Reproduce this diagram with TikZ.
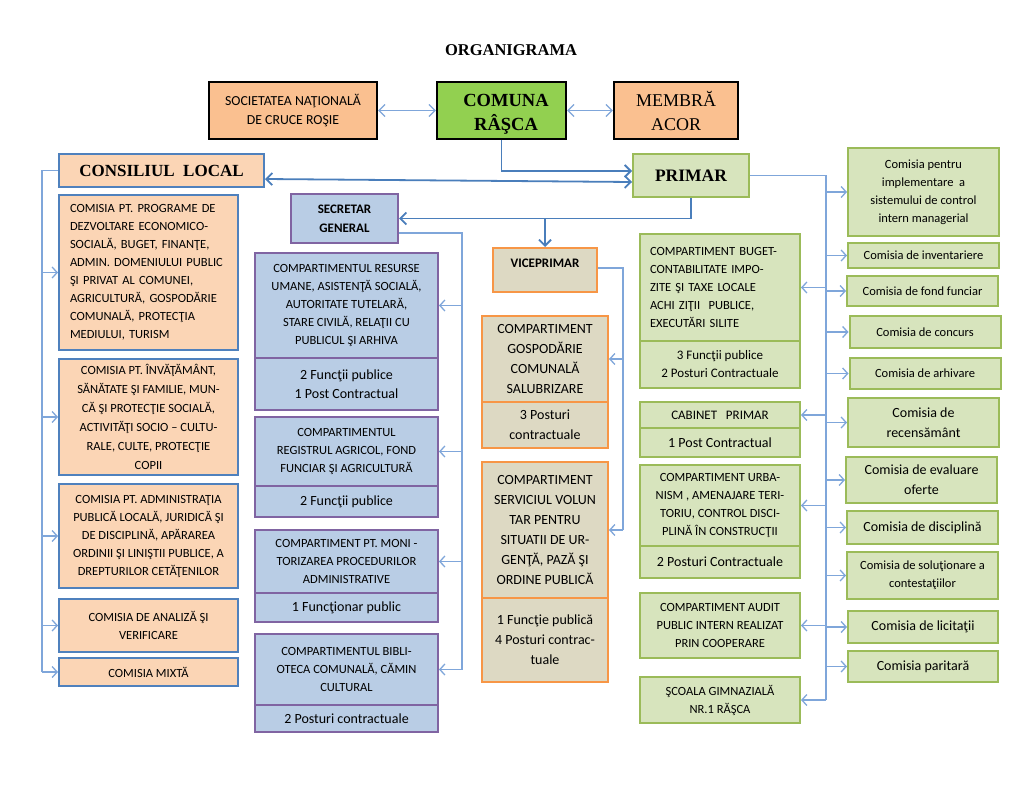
\documentclass[tikz,border=0pt]{standalone}
\usepackage{fontspec}
\setmainfont{Liberation Serif}
\newfontfamily\calib{Carlito}
\usetikzlibrary{arrows.meta,calc}
\frenchspacing
\definecolor{orTitle}{HTML}{FAC090}
\definecolor{grCom}{HTML}{92D050}
\definecolor{clFill}{HTML}{FBD5B5}
\definecolor{clLine}{HTML}{4F81BD}
\definecolor{grFill}{HTML}{D7E4BD}
\definecolor{grLine}{HTML}{9BBB59}
\definecolor{puFill}{HTML}{B9CDE5}
\definecolor{puLine}{HTML}{8064A2}
\definecolor{taFill}{HTML}{DDD9C3}
\definecolor{taLine}{HTML}{F79646}
\definecolor{conA}{HTML}{4A7EBB}
\definecolor{conB}{HTML}{7FA6DA}
\tikzset{
  base/.style={draw, line width=2pt, inner sep=2pt, align=center},
  sz/.style 2 args={minimum width=#1pt, minimum height=#2pt},
  blk/.style={base, draw=black, line width=2.2pt},
  clbox/.style={base, draw=clLine, fill=clFill},
  grbox/.style={base, draw=grLine, fill=grFill},
  pubox/.style={base, draw=puLine, fill=puFill},
  tabox/.style={base, draw=taLine, fill=taFill},
  small/.style={font=\calib\fontsize{12.5}{18}\selectfont},
  mid/.style={font=\calib\fontsize{14}{19.5}\selectfont},
  tan/.style={font=\calib\fontsize{14}{20}\selectfont},
  conn/.style={draw=conB, line width=1.3pt},
  arr/.style={conn, -{Straight Barb[length=5pt,width=11pt]}},
  mainc/.style={draw=conA, line width=1.8pt},
  marr/.style={mainc, -{Straight Barb[length=6pt,width=12pt]}},
  mdarr/.style={mainc, {Straight Barb[length=6pt,width=12pt]}-{Straight Barb[length=6pt,width=12pt]}},
  darr/.style={conn, {Straight Barb[length=6pt,width=12pt]}-{Straight Barb[length=6pt,width=12pt]}},
}
\begin{document}
\begin{tikzpicture}[x=1pt,y=-1pt]
\useasboundingbox[fill=white] (0,0) rectangle (1024,784);

% title row
\node[font=\bfseries\fontsize{16.5}{20}\selectfont] (title) at (511,50) {ORGANIGRAMA};
\node[blk, fill=orTitle, sz={168}{57}, font=\calib\fontsize{13.8}{19}\selectfont] (soc) at (293,110.5) {SOCIETATEA NAŢIONALĂ\\DE CRUCE ROŞIE};
\node[blk, fill=grCom, sz={129}{57}] (comuna) at (501.5,110.5) {};
\node[font=\bfseries\fontsize{18.5}{24}\selectfont, align=center] (comunaText) at (506,114) {COMUNA\\RÂŞCA};
\node[blk, fill=orTitle, sz={124}{57}, font=\fontsize{18}{24}\selectfont] (membra) at (676,110.5) {MEMBRĂ\\ACOR};

\node[clbox, sz={205}{33}, font=\bfseries\fontsize{17}{20}\selectfont] (cl) at (161.5,170.5) {CONSILIUL~~LOCAL};
\node[grbox, sz={116}{43}, font=\bfseries\fontsize{17.5}{20}\selectfont] (primar) at (691,175.5) {PRIMAR};
\node[pubox, sz={107}{49}, font=\calib\bfseries\fontsize{13}{19}\selectfont] (secretar) at (344.5,218.5) {SECRETAR\\GENERAL};
\node[tabox, sz={104}{44}, font=\calib\bfseries\fontsize{13}{16}\selectfont, text height=8pt, text depth=13pt] (vice) at (545,270) {VICEPRIMAR};

% consiliul commissions
\node[clbox, small, sz={179}{155}, text width=157pt, align=left] (prog) at (148.5,272.5) {COMISIA PT. PROGRAME DE\\\makebox[157pt][s]{DEZVOLTARE ECONOMICO-}\\\makebox[157pt][s]{SOCIALĂ, BUGET, FINANŢE,}\\\makebox[157pt][s]{ADMIN. DOMENIULUI PUBLIC}\\\makebox[157pt][s]{ŞI PRIVAT AL COMUNEI,}\\\makebox[157pt][s]{AGRICULTURĂ, GOSPODĂRIE}\\\makebox[157pt][s]{COMUNALĂ, PROTECŢIA}\\MEDIULUI, TURISM};
\node[clbox, small, sz={179}{116}, font=\calib\fontsize{12.5}{19}\selectfont] (invat) at (148.5,417) {COMISIA PT. ÎNVĂŢĂMÂNT,\\SĂNĂTATE ŞI FAMILIE, MUN-\\CĂ ŞI PROTECŢIE SOCIALĂ,\\ACTIVITĂŢI SOCIO – CULTU-\\RALE, CULTE, PROTECŢIE\\COPII};
\node[clbox, small, sz={179}{104}] (admin) at (148.5,536) {COMISIA PT. ADMINISTRAŢIA\\PUBLICĂ LOCALĂ, JURIDICĂ ŞI\\DE DISCIPLINĂ, APĂRAREA\\ORDINII ŞI LINIŞTII PUBLICE, A\\DREPTURILOR CETĂŢENILOR};
\node[clbox, small, sz={179}{53}] (analiza) at (148.5,625.5) {COMISIA DE ANALIZĂ ŞI\\VERIFICARE};
\node[clbox, small, sz={179}{28}] (mixta) at (148.5,672) {COMISIA MIXTĂ};

% secretar compartments
\node[pubox, small, sz={183}{105}] (resTop) at (346.5,305.5) {COMPARTIMENTUL RESURSE\\UMANE, ASISTENŢĂ SOCIALĂ,\\AUTORITATE TUTELARĂ,\\STARE CIVILĂ, RELAŢII CU\\PUBLICUL ŞI ARHIVA};
\node[pubox, mid, sz={183}{52}] (resBot) at (346.5,384) {2 Funcţii publice\\1 Post Contractual};
\node[pubox, small, sz={183}{69}] (regTop) at (346.5,451.5) {COMPARTIMENTUL\\REGISTRUL AGRICOL, FOND\\FUNCIAR ŞI AGRICULTURĂ};
\node[pubox, mid, sz={183}{31}] (regBot) at (346.5,501.5) {2 Funcţii publice};
\node[pubox, small, sz={183}{63}] (monTop) at (346.5,561.5) {COMPARTIMENT PT. MONI -\\TORIZAREA PROCEDURILOR\\ADMINISTRATIVE};
\node[pubox, mid, sz={183}{29}] (monBot) at (346.5,607.5) {1 Funcţionar public};
\node[pubox, small, sz={183}{71}] (bibTop) at (346.5,669.5) {COMPARTIMENTUL BIBLI-\\OTECA COMUNALĂ, CĂMIN\\CULTURAL};
\node[pubox, mid, sz={183}{27}] (bibBot) at (346.5,718.5) {2 Posturi contractuale};

% viceprimar compartments
\node[tabox, tan, sz={126}{86}] (gosTop) at (545,359) {COMPARTIMENT\\GOSPODĂRIE\\COMUNALĂ\\SALUBRIZARE};
\node[tabox, tan, sz={126}{46}] (gosBot) at (545,425) {3 Posturi\\contractuale};
\node[tabox, tan, sz={126}{136}] (serTop) at (545,530) {COMPARTIMENT\\SERVICIUL VOLUN\\TAR PENTRU\\SITUATII DE UR-\\GENŢĂ, PAZĂ ŞI\\ORDINE PUBLICĂ};
\node[tabox, tan, sz={126}{84}] (serBot) at (545,640) {1 Funcţie publică\\4 Posturi contrac-\\tuale};

% primar compartments
\node[grbox, small, sz={160}{107}, text width=140pt, align=left] (bugTop) at (720,287.5) {COMPARTIMENT BUGET-\\CONTABILITATE IMPO-\\ZITE ŞI TAXE LOCALE\\ACHI ZIŢII~ PUBLICE,\\EXECUTĂRI SILITE};
\node[grbox, font=\calib\fontsize{13}{18}\selectfont, sz={160}{47}] (bugBot) at (720,364.5) {3 Funcţii publice\\2 Posturi Contractuale};
\node[grbox, font=\calib\fontsize{13}{18}\selectfont, sz={160}{26}] (cabTop) at (720,415) {CABINET~~~PRIMAR};
\node[grbox, mid, sz={160}{29}] (cabBot) at (720,442.5) {1 Post Contractual};
\node[grbox, small, sz={160}{81}] (urbTop) at (720,505.5) {COMPARTIMENT URBA-\\NISM , AMENAJARE TERI-\\TORIU, CONTROL DISCI-\\PLINĂ ÎN CONSTRUCŢII};
\node[grbox, mid, sz={160}{32}] (urbBot) at (720,562) {2 Posturi Contractuale};
\node[grbox, small, sz={160}{65}] (audit) at (720,625.5) {COMPARTIMENT AUDIT\\PUBLIC INTERN REALIZAT\\PRIN COOPERARE};
\node[grbox, small, sz={160}{46}] (scoala) at (720,700) {ŞCOALA GIMNAZIALĂ\\NR.1 RĂŞCA};

% right commissions
\node[grbox, small, sz={151}{88}] (impl) at (923.5,192) {Comisia pentru\\implementare~ a\\sistemului de control\\intern managerial};
\node[grbox, small, sz={151}{25}] (inv) at (923.5,255.5) {Comisia de inventariere};
\node[grbox, small, sz={151}{30}] (fond) at (922.5,291) {Comisia de fond funciar};
\node[grbox, small, sz={151}{32}] (conc) at (925,332) {Comisia de concurs};
\node[grbox, small, sz={151}{31}] (arh) at (925,373.5) {Comisia de arhivare};
\node[grbox, mid, sz={151}{49}] (rec) at (923.5,422.5) {Comisia de\\recensământ};
\node[grbox, mid, sz={151}{46}, font=\calib\fontsize{14}{20}\selectfont] (eval) at (921.5,480) {Comisia de evaluare\\oferte};
\node[grbox, mid, sz={151}{33}] (disc) at (922.5,527.5) {Comisia de disciplină};
\node[grbox, small, sz={151}{47}] (sol) at (922.5,575.5) {Comisia de soluţionare a\\contestaţiilor};
\node[grbox, mid, sz={150}{32}] (lic) at (923,627) {Comisia de licitaţii};
\node[grbox, mid, sz={150}{31}] (par) at (923,666.5) {Comisia paritară};

% bus coordinates
\coordinate (cb) at (42,0);
\coordinate (sb) at (462,0);
\coordinate (vb) at (623,0);
\coordinate (rb) at (826,0);

% top connectors
\draw[darr] (soc.east) -- (comuna.west);
\draw[darr] (comuna.east) -- (membra.west);
\draw[marr] (comuna.south) |- ([yshift=4.5pt]primar.west);
\draw[mdarr] ([yshift=-8.5pt]cl.east) -- ([yshift=-6.5pt]primar.west);
\draw[mainc] (primar.south) -- (primar.south |- secretar.east);
\draw[marr] (primar.south |- secretar.east) -- (secretar.east);
\draw[marr] (vice.north |- secretar.east) -- (vice.north);

% consiliul bus
\draw[conn] (cl.west) -- (cl.west -| cb) -- (mixta.west -| cb);
\foreach \n in {prog,invat,admin,analiza,mixta}
  \draw[arr] (\n.west -| cb) -- (\n.west);

% secretar bus
\draw[conn] ([yshift=-14.5pt]secretar.east) -- ([yshift=-14.5pt]secretar.east -| sb) -- (bibTop.east -| sb);
\foreach \n in {resTop,regTop,monTop,bibTop}
  \draw[arr] (\n.east -| sb) -- (\n.east);

% viceprimar bus
\draw[conn] ([yshift=2pt]vice.east) -- ([yshift=2pt]vice.east -| vb) -- (serTop.east -| vb);
\foreach \n in {gosTop,serTop}
  \draw[arr] (\n.east -| vb) -- (\n.east);

% primar bus
\draw[conn] (primar.east) -- (primar.east -| rb) -- (scoala.east -| rb);
\foreach \n in {impl,inv,fond,conc,arh,rec,eval,disc,sol,lic,par}
  \draw[arr] (\n.west -| rb) -- (\n.west);
\foreach \n in {bugTop,cabTop,urbTop,audit,scoala}
  \draw[arr] (\n.east -| rb) -- (\n.east);
\end{tikzpicture}
\end{document}
